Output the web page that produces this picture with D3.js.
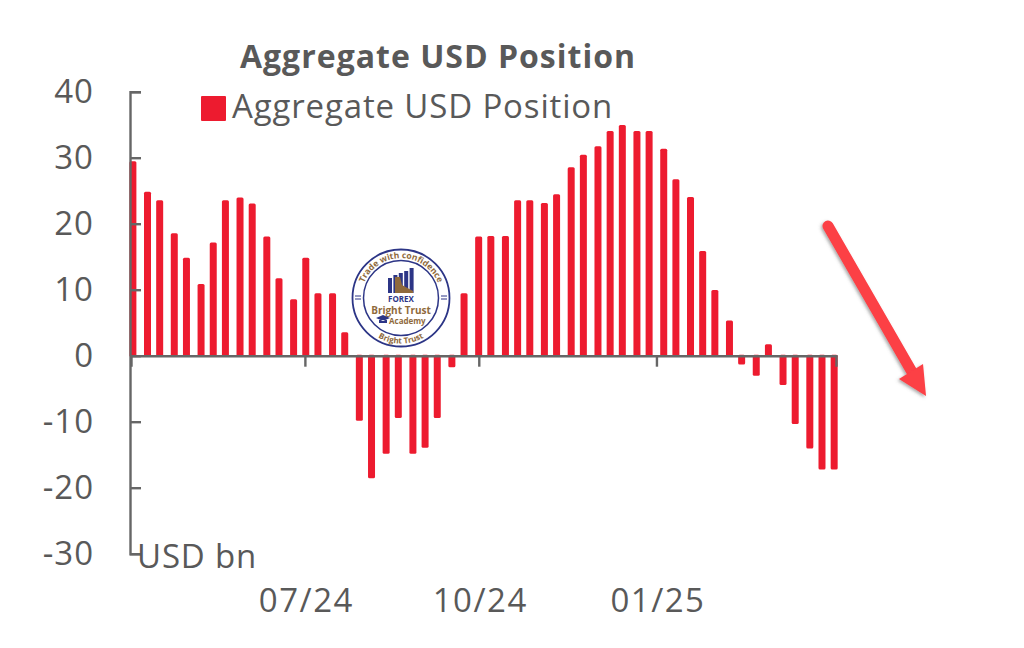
<!DOCTYPE html>
<html>
<head>
<meta charset="utf-8">
<script src="https://cdn.jsdelivr.net/npm/d3@7"></script>
<style>
  body { margin: 0; background: #fff; }
  text { font-family: "Open Sans", sans-serif; fill: #595959; }
</style>
</head>
<body>
<script>
// data
var weekDates = [
  '2024-04-02', '2024-04-09', '2024-04-16', '2024-04-23', '2024-04-30', '2024-05-07',
  '2024-05-14', '2024-05-21', '2024-05-28', '2024-06-04', '2024-06-11', '2024-06-18',
  '2024-06-25', '2024-07-02', '2024-07-09', '2024-07-16', '2024-07-23', '2024-07-30',
  '2024-08-06', '2024-08-13', '2024-08-20', '2024-08-27', '2024-09-03', '2024-09-10',
  '2024-09-17', '2024-09-24', '2024-10-01', '2024-10-08', '2024-10-15', '2024-10-22',
  '2024-10-29', '2024-11-05', '2024-11-12', '2024-11-19', '2024-11-26', '2024-12-03',
  '2024-12-10', '2024-12-17', '2024-12-24', '2024-12-31', '2025-01-07', '2025-01-14',
  '2025-01-21', '2025-01-28', '2025-02-04', '2025-02-11', '2025-02-18', '2025-02-25',
  '2025-03-04', '2025-03-11', '2025-03-18', '2025-03-25', '2025-04-01', '2025-04-08'
];
var usdPosition = [
  29.3, 24.7, 23.4, 18.4, 14.7, 10.7, 17.0, 23.4, 23.8, 22.9, 17.9, 11.6, 8.4, 14.7,
  9.3, 9.3, 3.4, -9.7, -18.4, -14.7, -9.3, -14.7, -13.8, -9.3, -1.6, 9.3, 17.9,
  18.0, 18.0, 23.4, 23.4, 23.0, 24.3, 28.4, 30.3, 31.6, 33.9, 34.8, 33.9, 33.9, 31.2,
  26.6, 23.9, 15.7, 9.8, 5.2, -1.2, -2.9, 1.6, -4.3, -10.2, -13.9, -17.1, -17.1
];
var yTicks = [40, 30, 20, 10, 0, -10, -20, -30];
var xTickDates = ['2024-07-02', '2024-10-02', '2025-01-04'];
var logoBars = [15, 18, 20, 22, 25];

var parseDay = d3.utcParse('%Y-%m-%d');

var svg = d3.select('body').append('svg')
  .attr('width', 1024)
  .attr('height', 648);

// ----------------------------------------------------------------------------
// scales
var x = d3.scaleUtc()
  .domain([parseDay('2024-04-01'), parseDay('2025-04-09')])
  .range([131, 836]);

var y = d3.scaleLinear()
  .domain([-30, 40])
  .range([553.7, 91.7]);

// the source is an upscaled low res picture, bars sit on its coarse pixel grid
var grid = 2.435;
var x0 = x(parseDay(weekDates[0]));
function barX(d) {
  return x0 + grid * Math.round((x(parseDay(d)) - x0) / grid + 0.4);
}

// ----------------------------------------------------------------------------
// bars
var barWidth = 7;

svg.selectAll('.bar')
  .data(usdPosition)
  .enter()
  .append('rect')
  .attr('class', 'bar')
  .attr('x', function (d, i) { return barX(weekDates[i]) - barWidth / 2; })
  .attr('y', function (d) { return Math.min(y(d), y(0)) - 1; })
  .attr('width', barWidth)
  .attr('height', function (d) { return Math.abs(y(d) - y(0)) + 2; })
  .attr('rx', 1.5)
  .style('fill', '#ed1b2f');

// ----------------------------------------------------------------------------
// axes
var yAxis = d3.axisRight(y)
  .tickValues(yTicks)
  .tickSize(11)
  .tickFormat('');

var yGroup = svg.append('g')
  .attr('transform', 'translate(130,0)')
  .call(yAxis);

yGroup.selectAll('path, line')
  .style('stroke', '#666')
  .style('stroke-width', 2.4);

yGroup.selectAll('.tick')
  .append('text')
  .attr('x', -36)
  .attr('dy', '0.34em')
  .attr('text-anchor', 'end')
  .style('font-size', '33px')
  .style('letter-spacing', '1px')
  .style('fill', '#595959')
  .text(function (d) { return d; });

var xAxis = d3.axisBottom(x)
  .tickValues(xTickDates.map(parseDay))
  .tickSize(11)
  .tickSizeOuter(11)
  .tickPadding(222)
  .tickFormat(d3.utcFormat('%m/%y'));

var xGroup = svg.append('g')
  .attr('transform', 'translate(0,' + y(0) + ')')
  .call(xAxis);

xGroup.selectAll('path, line')
  .style('stroke', '#666')
  .style('stroke-width', 2.4);

xGroup.selectAll('text')
  .attr('dx', 1)
  .style('font-family', '"Open Sans", sans-serif')
  .style('font-size', '33px')
  .style('letter-spacing', '1.5px')
  .style('fill', '#595959');

// ----------------------------------------------------------------------------
// title, legend, unit
svg.append('text')
  .attr('x', 438)
  .attr('y', 68)
  .attr('text-anchor', 'middle')
  .style('font-size', '32px')
  .style('font-weight', 700)
  .style('letter-spacing', '1px')
  .text('Aggregate USD Position');

svg.append('rect')
  .attr('x', 201)
  .attr('y', 96)
  .attr('width', 25)
  .attr('height', 25)
  .attr('rx', 1)
  .style('fill', '#ed1b2f');

svg.append('text')
  .attr('x', 232)
  .attr('y', 118)
  .style('font-size', '33px')
  .style('letter-spacing', '0.85px')
  .text('Aggregate USD Position');

svg.append('text')
  .attr('x', 137)
  .attr('y', 568)
  .style('font-size', '33px')
  .style('letter-spacing', '0.85px')
  .text('USD bn');

// ----------------------------------------------------------------------------
// arrow
var defs = svg.append('defs');

defs.append('filter')
  .attr('id', 'arrowShadow')
  .attr('x', '-20%').attr('y', '-20%')
  .attr('width', '140%').attr('height', '140%')
  .append('feDropShadow')
  .attr('dx', -1.5).attr('dy', 1.5)
  .attr('stdDeviation', 1.5)
  .attr('flood-color', '#555')
  .attr('flood-opacity', 0.5);

var arrow = svg.append('g')
  .attr('filter', 'url(#arrowShadow)');

arrow.append('line')
  .attr('x1', 828).attr('y1', 226)
  .attr('x2', 912).attr('y2', 372)
  .style('stroke', '#fc3f45')
  .style('stroke-width', 11)
  .style('stroke-linecap', 'round');

arrow.append('path')
  .attr('d', 'M926,396 L899,379 L923,364 Z')
  .style('fill', '#fc3f45');

// ----------------------------------------------------------------------------
// logo stamp
var navy = '#2c3586';
var brown = '#8f6a3c';

var logo = svg.append('g')
  .attr('transform', 'translate(401,298)');

logo.append('circle')
  .attr('r', 48.5)
  .style('fill', '#fff')
  .style('stroke', navy)
  .style('stroke-width', 1.8);

logo.append('circle')
  .attr('r', 37.5)
  .style('fill', 'none')
  .style('stroke', navy)
  .style('stroke-width', 1.5);

defs.append('path')
  .attr('id', 'logoTop')
  .attr('d', 'M-39,9 A40,40 0 1 1 39,9');

defs.append('path')
  .attr('id', 'logoBottom')
  .attr('d', 'M-44,13 A46,46 0 0 0 44,13');

logo.append('text')
  .style('font-size', '8.5px')
  .style('font-weight', 700)
  .style('fill', brown)
  .append('textPath')
  .attr('href', '#logoTop')
  .attr('startOffset', '50%')
  .attr('text-anchor', 'middle')
  .text('Trade with confidence');

logo.append('text')
  .style('font-size', '8px')
  .style('font-weight', 700)
  .style('fill', brown)
  .append('textPath')
  .attr('href', '#logoBottom')
  .attr('startOffset', '50%')
  .attr('text-anchor', 'middle')
  .text('Bright Trust');

logo.selectAll('.logoBar')
  .data(logoBars)
  .enter()
  .append('rect')
  .attr('class', 'logoBar')
  .attr('x', function (d, i) { return -13 + i * 5.4; })
  .attr('y', function (d) { return -5 - d; })
  .attr('width', 4)
  .attr('height', function (d) { return d; })
  .style('fill', navy);

logo.append('path')
  .attr('d', 'M-6,-21 L-1,-21 L1,-13 L12,-7 L12,-5 L-6,-5 Z')
  .style('fill', brown);

logo.append('text')
  .attr('y', 3.5)
  .attr('text-anchor', 'middle')
  .style('font-size', '8px')
  .style('font-weight', 700)
  .style('fill', navy)
  .text('FOREX');

logo.append('text')
  .attr('y', 15.5)
  .attr('text-anchor', 'middle')
  .style('font-size', '10px')
  .style('font-weight', 700)
  .style('fill', brown)
  .text('Bright Trust');

logo.append('path')
  .attr('d', 'M-25,20 L-18,17 L-11,20 L-18,23 Z M-22,22 L-22,25 L-14,25 L-14,22 Z')
  .style('fill', navy);

logo.append('text')
  .attr('x', -12)
  .attr('y', 25.5)
  .style('font-size', '8px')
  .style('font-weight', 700)
  .style('fill', brown)
  .text('Academy');

[-43, 43].forEach(function (side) {
  logo.append('path')
    .attr('d', 'M' + (side - 3) + ',-2 h6 M' + (side - 3) + ',1 h6')
    .style('stroke', navy)
    .style('stroke-width', 1);
});
</script>
</body>
</html>
